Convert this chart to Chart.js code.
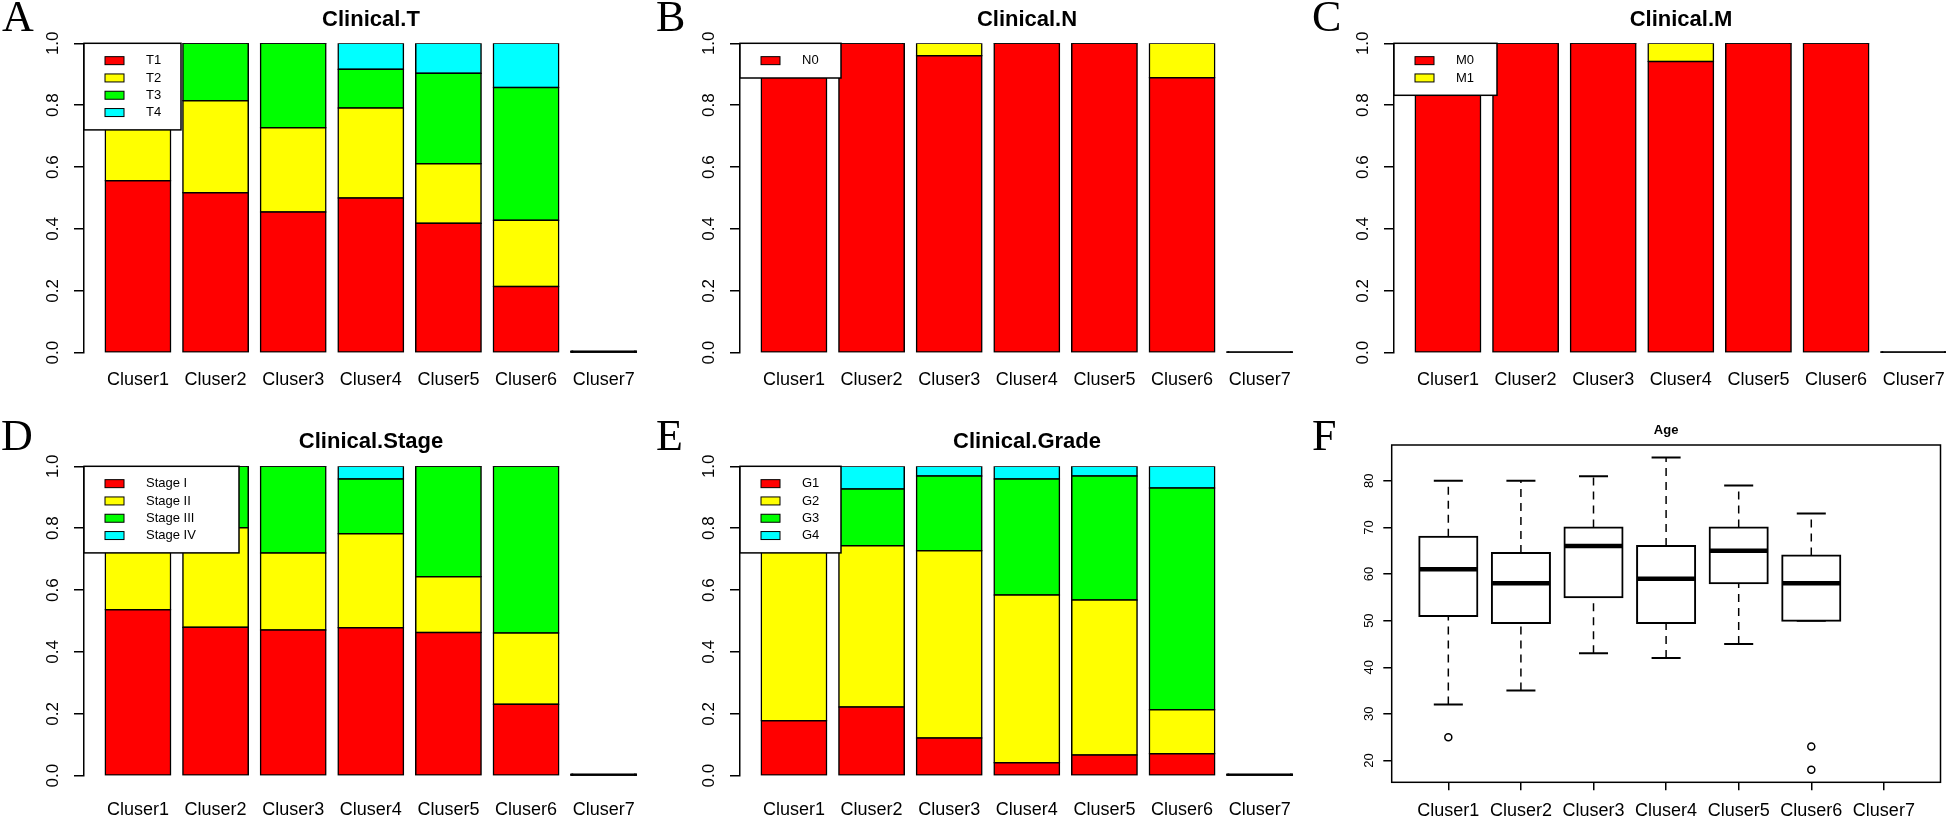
<!DOCTYPE html>
<html lang="en">
<head>
<meta charset="UTF-8" />
<title>Clinical features by cluster</title>
<script src="https://cdn.jsdelivr.net/npm/chart.js"></script>
<style>
  body { margin: 0; width: 1946px; height: 819px; overflow: hidden; background: #fff; position: relative; }
  canvas { position: absolute; }
  .tag { position: absolute; font-family: "Liberation Serif", "Times New Roman", serif; font-size: 44px; line-height: 44px; color: #000; }
</style>
</head>
<body>
<canvas id="panel-t" width="660" height="409" style="left:0;top:0"></canvas>
<canvas id="panel-n" width="660" height="409" style="left:656px;top:0"></canvas>
<canvas id="panel-m" width="660" height="409" style="left:1310px;top:0"></canvas>
<canvas id="panel-stage" width="660" height="409" style="left:0;top:423px"></canvas>
<canvas id="panel-grade" width="660" height="409" style="left:656px;top:423px"></canvas>
<canvas id="panel-age" width="656" height="410" style="left:1290px;top:409px"></canvas>

<div class="tag" style="left:2px;top:-5px">A</div>
<div class="tag" style="left:656px;top:-5px">B</div>
<div class="tag" style="left:1312px;top:-5px">C</div>
<div class="tag" style="left:1px;top:414px">D</div>
<div class="tag" style="left:656px;top:414px">E</div>
<div class="tag" style="left:1312px;top:414px">F</div>

<script>
    const clusters = ['Cluser1', 'Cluser2', 'Cluser3', 'Cluser4', 'Cluser5', 'Cluser6', 'Cluser7'];
    const propTicks = [0, 0.2, 0.4, 0.6, 0.8, 1.0];
    const ageTicks = [20, 30, 40, 50, 60, 70, 80];

    // Clinical.T (proportions per cluster)
    const tLabels = ['T1', 'T2', 'T3', 'T4'];
    const tT1 = [0.556, 0.517, 0.455, 0.500, 0.418, 0.214, 0];
    const tT2 = [0.444, 0.297, 0.272, 0.291, 0.193, 0.214, 0];
    const tT3 = [0, 0.186, 0.273, 0.125, 0.292, 0.429, 0];
    const tT4 = [0, 0, 0, 0.084, 0.097, 0.143, 0];

    // Clinical.N
    const nLabels = ['N0', 'N1'];
    const nN0 = [1, 1, 0.960, 1, 1, 0.889, 0];
    const nN1 = [0, 0, 0.040, 0, 0, 0.111, 0];

    // Clinical.M
    const mLabels = ['M0', 'M1'];
    const mM0 = [1, 1, 1, 0.941, 1, 1, 0];
    const mM1 = [0, 0, 0, 0.059, 0, 0, 0];

    // Clinical.Stage
    const stageLabels = ['Stage I', 'Stage II', 'Stage III', 'Stage IV'];
    const stageI = [0.536, 0.480, 0.471, 0.478, 0.463, 0.231, 0];
    const stageII = [0.464, 0.321, 0.249, 0.304, 0.180, 0.230, 0];
    const stageIII = [0, 0.199, 0.280, 0.177, 0.357, 0.539, 0];
    const stageIV = [0, 0, 0, 0.041, 0, 0, 0];

    // Clinical.Grade
    const gradeLabels = ['G1', 'G2', 'G3', 'G4'];
    const gradeG1 = [0.178, 0.222, 0.122, 0.042, 0.067, 0.071, 0];
    const gradeG2 = [0.822, 0.521, 0.605, 0.542, 0.501, 0.142, 0];
    const gradeG3 = [0, 0.184, 0.242, 0.375, 0.401, 0.717, 0];
    const gradeG4 = [0, 0.073, 0.031, 0.041, 0.031, 0.070, 0];

    // Age boxplot stats (Cluser7 empty)
    const ageMin = [32, 35, 43, 42, 45, 50, null];
    const ageQ1 = [51, 49.5, 55, 49.5, 58, 50, null];
    const ageMed = [61, 58, 66, 59, 65, 58, null];
    const ageQ3 = [68, 64.5, 70, 66, 70, 64, null];
    const ageMax = [80, 80, 81, 85, 79, 73, null];
    const ageOut = [[25], [], [], [], [], [23, 18], []];

    const fills = ['#ff0000', '#ffff00', '#00ff00', '#00ffff'];

    Chart.defaults.font.family = '"Liberation Sans", Arial, sans-serif';
    Chart.defaults.color = '#000';

    // R style legend box sitting in the top-left corner of the plot
    const rLegend = {
        id: 'rLegend',
        afterDatasetsDraw(chart, args, opts) {
            const ctx = chart.ctx;
            const a = chart.chartArea;
            const items = chart.data.datasets.slice(0, opts.count);
            const h = 17.3 * items.length + 17.4;
            ctx.save();
            ctx.fillStyle = '#fff';
            ctx.fillRect(a.left, a.top, opts.width, h);
            ctx.lineWidth = 1.5;
            ctx.strokeStyle = '#000';
            ctx.strokeRect(a.left, a.top, opts.width, h);
            ctx.font = '13px "Liberation Sans", Arial, sans-serif';
            ctx.textBaseline = 'middle';
            items.forEach((d, i) => {
                const y = a.top + 17.35 + 17.3 * i;
                ctx.fillStyle = fills[i];
                ctx.fillRect(a.left + 21, y - 4, 19, 8);
                ctx.lineWidth = 1;
                ctx.strokeRect(a.left + 21, y - 4, 19, 8);
                ctx.fillStyle = '#000';
                ctx.fillText(d.label, a.left + 62, y);
            });
            ctx.restore();
        }
    };

    function stackedPanel(id, title, labels, series, legendCount, legendWidth, titlePad, labelPad) {
        new Chart(document.getElementById(id), {
            type: 'bar',
            data: {
                datasets: series.map((vals, k) => ({
                    label: labels[k],
                    data: vals.map((v, i) => ({x: i + 1, y: v})),
                    backgroundColor: c => (c.raw && c.raw.y === 0) ? '#000' : fills[k],
                    borderColor: '#000',
                    borderWidth: 1.5,
                    borderSkipped: false,
                    inflateAmount: 0.75,
                    minBarLength: 0.5,
                    barPercentage: 0.842,
                    categoryPercentage: 1
                }))
            },
            options: {
                responsive: false,
                animation: false,
                layout: {padding: {left: 0, right: 2, top: 0, bottom: 0}},
                plugins: {
                    legend: {display: false},
                    tooltip: {enabled: false},
                    title: {
                        display: true,
                        text: title,
                        fullSize: false,
                        color: '#000',
                        font: {size: 22, weight: 'bold'},
                        padding: titlePad
                    },
                    rLegend: {count: legendCount, width: legendWidth}
                },
                scales: {
                    x: {
                        type: 'linear',
                        min: 0.305,
                        max: 7.7,
                        offset: false,
                        stacked: true,
                        afterBuildTicks: s => { s.ticks = clusters.map((c, i) => ({value: i + 1})); },
                        afterFit: s => { s.height = 56.3; },
                        grid: {display: false, drawTicks: false, offset: false},
                        border: {display: false},
                        ticks: {
                            callback: v => clusters[v - 1],
                            font: {size: 18},
                            color: '#000',
                            padding: labelPad,
                            autoSkip: false,
                            maxRotation: 0
                        }
                    },
                    y: {
                        min: 0,
                        max: 1,
                        stacked: true,
                        afterBuildTicks: s => { s.ticks = propTicks.map(v => ({value: v})); },
                        afterFit: s => { s.width = 84; },
                        grid: {drawOnChartArea: false, drawTicks: true, tickLength: 10, color: '#000', lineWidth: 1.5},
                        border: {display: true, color: '#000', width: 1.5},
                        ticks: {
                            callback: v => v.toFixed(1),
                            font: {size: 17},
                            color: '#000',
                            padding: 8.5,
                            minRotation: 90,
                            maxRotation: 90,
                            crossAlign: 'center',
                            autoSkip: false
                        }
                    }
                }
            },
            plugins: [rLegend]
        });
    }

    const topTitlePad = {top: 6.8, bottom: 10.1};
    const lowTitlePad = {top: 6.1, bottom: 10.8};

    stackedPanel('panel-t', 'Clinical.T', tLabels, [tT1, tT2, tT3, tT4], 4, 97, topTitlePad, 16.5);
    stackedPanel('panel-n', 'Clinical.N', nLabels, [nN0, nN1], 1, 101, topTitlePad, 16.5);
    stackedPanel('panel-m', 'Clinical.M', mLabels, [mM0, mM1], 2, 103, topTitlePad, 16.5);
    stackedPanel('panel-stage', 'Clinical.Stage', stageLabels, [stageI, stageII, stageIII, stageIV], 4, 155, lowTitlePad, 23.9);
    stackedPanel('panel-grade', 'Clinical.Grade', gradeLabels, [gradeG1, gradeG2, gradeG3, gradeG4], 4, 101, lowTitlePad, 23.9);

    // Age boxplot
    const boxFrame = {
        id: 'boxFrame',
        afterDraw(chart) {
            const {ctx, chartArea: a} = chart;
            ctx.save();
            ctx.strokeStyle = '#000';
            ctx.lineWidth = 1.5;
            ctx.strokeRect(a.left, a.top, a.right - a.left, a.bottom - a.top);
            ctx.restore();
        }
    };

    const has = i => ageMed[i] !== null;
    const idx = clusters.map((c, i) => i).filter(has);
    const allAges = idx.flatMap(i => [ageMin[i], ageMax[i], ...ageOut[i]]);
    const ageLo = Math.min(...allAges);
    const ageHi = Math.max(...allAges);
    const agePad = (ageHi - ageLo) * 0.04;
    const unitPx = (chart, u) => chart.scales.x.getPixelForValue(1 + u) - chart.scales.x.getPixelForValue(1);

    new Chart(document.getElementById('panel-age'), {
        type: 'bar',
        data: {
            datasets: [
                {
                    type: 'scatter',
                    label: 'median',
                    data: idx.map(i => ({x: i + 1, y: ageMed[i]})),
                    pointStyle: 'line',
                    pointRadius: c => unitPx(c.chart, 0.4),
                    pointBorderWidth: 4.5,
                    pointBorderColor: '#000'
                },
                {
                    type: 'bar',
                    label: 'box',
                    data: idx.map(i => ({x: i + 1, y: [ageQ1[i], ageQ3[i]]})),
                    backgroundColor: '#fff',
                    borderColor: '#000',
                    borderWidth: 2,
                    borderSkipped: false,
                    inflateAmount: 1,
                    barPercentage: 1,
                    categoryPercentage: 0.8
                },
                {
                    type: 'scatter',
                    label: 'caps',
                    data: idx.flatMap(i => [{x: i + 1, y: ageMax[i]}, {x: i + 1, y: ageMin[i]}]),
                    pointStyle: 'line',
                    pointRadius: c => unitPx(c.chart, 0.2),
                    pointBorderWidth: 2,
                    pointBorderColor: '#000'
                },
                {
                    type: 'scatter',
                    label: 'outliers',
                    data: idx.flatMap(i => ageOut[i].map(v => ({x: i + 1, y: v}))),
                    pointStyle: 'circle',
                    pointRadius: 3.5,
                    pointBorderWidth: 1.5,
                    pointBorderColor: '#000',
                    pointBackgroundColor: '#fff'
                },
                {
                    type: 'line',
                    label: 'whiskers',
                    data: idx.flatMap(i => [
                        {x: i + 1, y: ageQ3[i]}, {x: i + 1, y: ageMax[i]}, {x: i + 1, y: null},
                        {x: i + 1, y: ageMin[i]}, {x: i + 1, y: ageQ1[i]}, {x: i + 1, y: null}
                    ]),
                    borderColor: '#000',
                    borderWidth: 1.5,
                    borderDash: [8, 6],
                    pointRadius: 0,
                    spanGaps: false,
                    fill: false
                }
            ]
        },
        options: {
            responsive: false,
            animation: false,
            layout: {padding: {left: 0, right: 1, top: 0, bottom: 0}},
            plugins: {
                legend: {display: false},
                tooltip: {enabled: false},
                title: {
                    display: true,
                    text: 'Age',
                    fullSize: false,
                    color: '#000',
                    font: {size: 13, weight: 'bold'},
                    padding: {top: 13.2, bottom: 7.2}
                }
            },
            scales: {
                x: {
                    type: 'linear',
                    min: 0.22,
                    max: 7.78,
                    offset: false,
                    afterBuildTicks: s => { s.ticks = clusters.map((c, i) => ({value: i + 1})); },
                    afterFit: s => { s.height = 36.7; },
                    grid: {drawOnChartArea: false, drawTicks: true, tickLength: 8, color: '#000', lineWidth: 1.5, offset: false},
                    border: {display: false},
                    ticks: {
                        callback: v => clusters[v - 1],
                        font: {size: 18},
                        color: '#000',
                        padding: 10,
                        autoSkip: false,
                        maxRotation: 0
                    }
                },
                y: {
                    min: ageLo - agePad,
                    max: ageHi + agePad,
                    afterBuildTicks: s => { s.ticks = ageTicks.map(v => ({value: v})); },
                    afterFit: s => { s.width = 101.7; },
                    grid: {drawOnChartArea: false, drawTicks: true, tickLength: 8.4, color: '#000', lineWidth: 1.5},
                    border: {display: false},
                    ticks: {
                        font: {size: 13},
                        color: '#000',
                        padding: 7,
                        minRotation: 90,
                        maxRotation: 90,
                        crossAlign: 'center',
                        autoSkip: false
                    }
                }
            }
        },
        plugins: [boxFrame]
    });
</script>
</body>
</html>
